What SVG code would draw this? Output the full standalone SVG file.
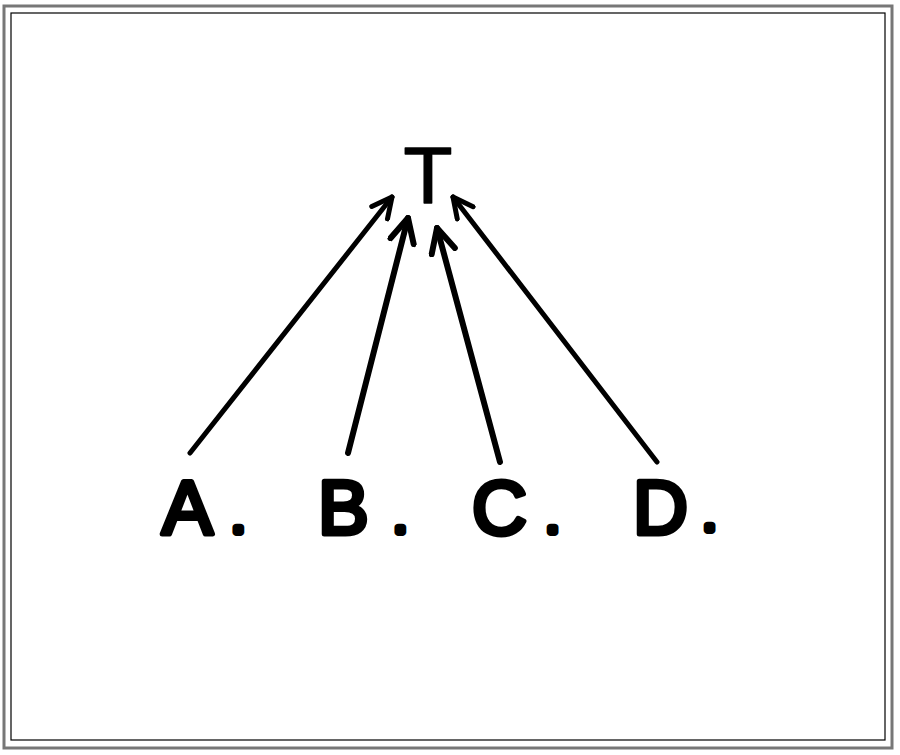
<svg xmlns="http://www.w3.org/2000/svg" width="900" height="755" viewBox="0 0 900 755">
<defs>
<style>
.lbl{font-family:"Liberation Sans",Arial,sans-serif;font-weight:normal;fill:#000;stroke:#000;stroke-width:5;stroke-linejoin:round;}
.dot{font-size:40px;stroke-width:8;}
.ln{fill:none;stroke:#000;stroke-linecap:round;stroke-linejoin:round;}
</style>
<marker id="ah" viewBox="0 0 20 20" refX="18" refY="10" markerWidth="5" markerHeight="5" markerUnits="strokeWidth" orient="auto">
<path d="M2,2 L18,10 L2,18" fill="none" stroke="#000" stroke-width="4" stroke-linecap="round" stroke-linejoin="round"/>
</marker>
</defs>
<rect width="900" height="755" fill="#fff"/>
<rect x="4" y="6" width="888" height="742" fill="none" stroke="#777" stroke-width="3"/>
<rect x="11" y="13" width="874" height="727" fill="none" stroke="#000" stroke-width="1.2"/>
<g id="connectors">
<line class="ln" x1="190" y1="453" x2="392" y2="197" stroke-width="5" marker-end="url(#ah)"/>
<line class="ln" x1="348" y1="453" x2="408" y2="218" stroke-width="6" marker-end="url(#ah)"/>
<line class="ln" x1="500" y1="462" x2="437" y2="228" stroke-width="6" marker-end="url(#ah)"/>
<line class="ln" x1="657" y1="462" x2="453" y2="197" stroke-width="5" marker-end="url(#ah)"/>
</g>
<g id="nodeT"><text class="lbl" x="428" y="203" font-size="80" text-anchor="middle" style="stroke-width:1.5">T</text></g>
<g id="nodeA"><text class="lbl" x="162" y="534" font-size="76">A<tspan class="dot" dx="20" dy="-2">.</tspan></text></g>
<g id="nodeB"><text class="lbl" x="318" y="534" font-size="76">B<tspan class="dot" dx="26" dy="-2">.</tspan></text></g>
<g id="nodeC"><text class="lbl" x="472" y="534" font-size="76">C<tspan class="dot" dx="20" dy="-2">.</tspan></text></g>
<g id="nodeD"><text class="lbl" x="633" y="534" font-size="76">D<tspan class="dot" dx="16" dy="-4">.</tspan></text></g>
</svg>
